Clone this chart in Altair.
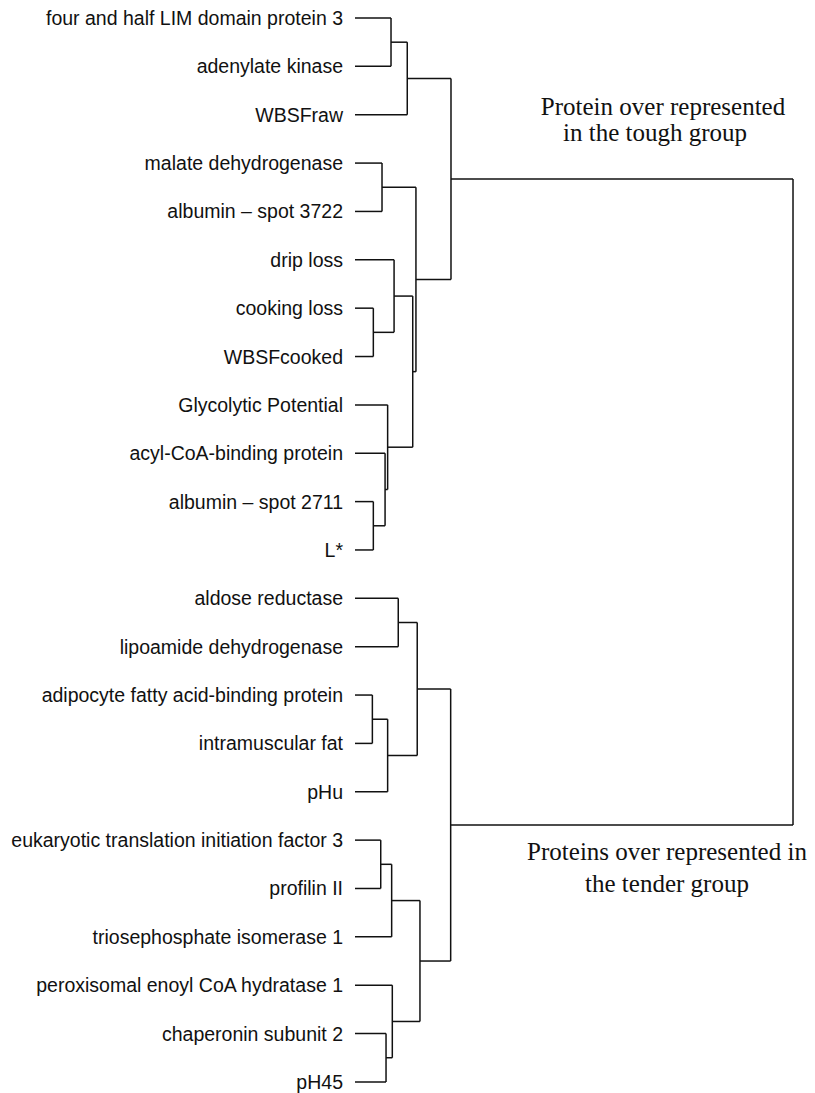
import altair as alt
import pandas as pd

# Leaves, top to bottom
labels = [
    "four and half LIM domain protein 3",
    "adenylate kinase",
    "WBSFraw",
    "malate dehydrogenase",
    "albumin \u2013 spot 3722",
    "drip loss",
    "cooking loss",
    "WBSFcooked",
    "Glycolytic Potential",
    "acyl-CoA-binding protein",
    "albumin \u2013 spot 2711",
    "L*",
    "aldose reductase",
    "lipoamide dehydrogenase",
    "adipocyte fatty acid-binding protein",
    "intramuscular fat",
    "pHu",
    "eukaryotic translation initiation factor 3",
    "profilin II",
    "triosephosphate isomerase 1",
    "peroxisomal enoyl CoA hydratase 1",
    "chaperonin subunit 2",
    "pH45",
]

# Cluster merges (children are leaf labels or earlier cluster names), distance
merge_names = ["A", "B", "D", "F", "G", "J", "K", "I", "H", "E", "C",
               "L", "M", "N", "O", "R", "S", "U", "T", "Q", "P", "ROOT"]
merge_left = ["four and half LIM domain protein 3", "A", "malate dehydrogenase",
              "cooking loss", "drip loss", "albumin \u2013 spot 2711",
              "acyl-CoA-binding protein", "Glycolytic Potential", "G", "D", "B",
              "aldose reductase", "adipocyte fatty acid-binding protein", "M", "L",
              "eukaryotic translation initiation factor 3", "R",
              "chaperonin subunit 2", "peroxisomal enoyl CoA hydratase 1", "S", "O", "C"]
merge_right = ["adenylate kinase", "WBSFraw", "albumin \u2013 spot 3722",
               "WBSFcooked", "F", "L*", "J", "K", "I", "H", "E",
               "lipoamide dehydrogenase", "intramuscular fat", "pHu", "N",
               "profilin II", "triosephosphate isomerase 1", "pH45", "U", "T", "Q", "P"]
merge_height = [2.24, 3.25, 1.68, 1.14, 2.43, 1.14, 1.87, 2.03, 3.59, 3.79, 5.97,
                2.69, 1.08, 2.03, 3.87, 1.60, 2.28, 1.93, 2.32, 4.04, 5.95, 27.24]

# Annotation text
note_lines = ["Protein over represented", "in the tough group",
              "Proteins over represented in", "the tender group"]

# ---- build dendrogram segments ----
pos = {lab: float(i) for i, lab in enumerate(labels)}
hgt = {lab: 0.0 for lab in labels}
segs = []
for name, l, r, h in zip(merge_names, merge_left, merge_right, merge_height):
    yl, yr = pos[l], pos[r]
    segs.append(dict(x=h, x2=h, y=yl, y2=yr))
    segs.append(dict(x=hgt[l], x2=h, y=yl, y2=yl))
    segs.append(dict(x=hgt[r], x2=h, y=yr, y2=yr))
    pos[name] = (yl + yr) / 2
    hgt[name] = h
seg_df = pd.DataFrame(segs)
lab_df = pd.DataFrame({"label": labels, "y": [pos[l] for l in labels], "x": 0.0})

W, H = 799, 1085
xs = alt.Scale(domain=[-21.58, 28.11], range=[0, W], nice=False, zero=False)
ys = alt.Scale(domain=[-0.2068, 22.229], range=[0, H], nice=False, zero=False)

lines = alt.Chart(seg_df).mark_rule(color="#111111", strokeWidth=1.5).encode(
    x=alt.X("x:Q", scale=xs, axis=None),
    x2="x2:Q",
    y=alt.Y("y:Q", scale=ys, axis=None),
    y2="y2:Q",
)

text = alt.Chart(lab_df).mark_text(
    align="right", baseline="middle", dx=-12, dy=1,
    font="Liberation Sans", fontSize=19.5, color="#111111"
).encode(
    x=alt.X("x:Q", scale=xs, axis=None),
    y=alt.Y("y:Q", scale=ys, axis=None),
    text="label:N",
)

note_df = pd.DataFrame({
    "t": note_lines,
    "px": [655, 647, 659, 659],
    "py": [107, 133, 852, 884],
})
notes = alt.Chart(note_df).mark_text(
    align="center", baseline="alphabetic",
    font="Liberation Serif", fontSize=25, color="#111111"
).encode(
    x=alt.X("px:Q", scale=alt.Scale(domain=[0, W], range=[0, W], nice=False, zero=False), axis=None),
    y=alt.Y("py:Q", scale=alt.Scale(domain=[0, H], range=[0, H], nice=False, zero=False), axis=None),
    text="t:N",
)

chart = alt.layer(lines, text, notes).resolve_scale(x="independent", y="independent").properties(
    width=W, height=H, padding=0, background="white",
    autosize=alt.AutoSizeParams(type="none"),
).configure_view(strokeWidth=0, stroke=None)

chart.save("out.html", embed_options={"renderer": "svg", "actions": False})
